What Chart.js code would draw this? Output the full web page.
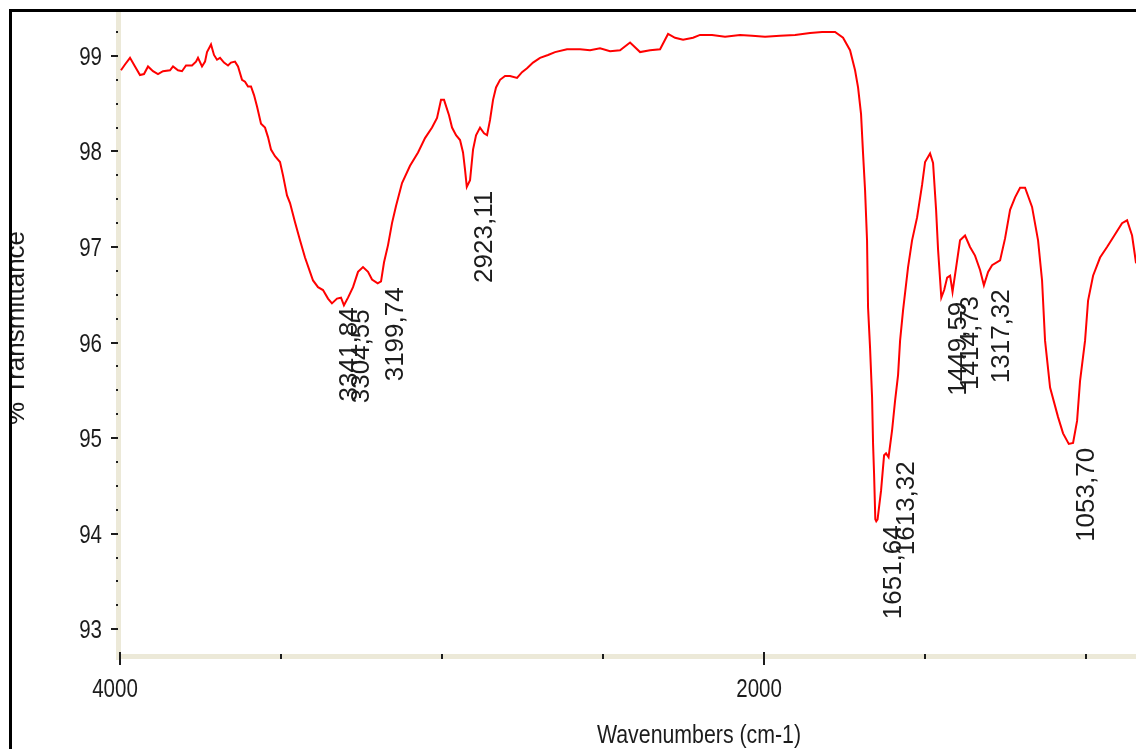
<!DOCTYPE html>
<html>
<head>
<meta charset="utf-8">
<script src="https://cdn.jsdelivr.net/npm/chart.js@4"></script>
<style>
  html, body { margin: 0; padding: 0; background: #fff; }
  canvas { display: block; }
</style>
</head>
<body>
<canvas id="irChart" width="1136" height="749"></canvas>
<script>
// IR spectrum, wavenumber (cm-1) against % transmittance
const wavenumbers = [
  3997, 3984.5, 3968.9, 3953.4, 3937.9, 3925.5, 3913, 3897.5, 3882, 3866.5,
  3844.7, 3835.4, 3819.9, 3807.5, 3795, 3776.4, 3764, 3757.8, 3745.3, 3736,
  3729.8, 3717.4, 3708.1, 3698.8, 3689.4, 3677, 3664.6, 3655.3, 3642.9, 3633.5,
  3621.1, 3611.8, 3602.5, 3593.2, 3583.8, 3574.5, 3562.1, 3549.7, 3540.4, 3531.1,
  3518.6, 3503.1, 3493.8, 3481.4, 3472, 3456.5, 3441, 3425.5, 3410, 3400.6,
  3385.1, 3369.6, 3354.1, 3341.84, 3326.1, 3313.7, 3304.55, 3291.9, 3276.4, 3260.9,
  3245.4, 3229.8, 3217.4, 3199.74, 3189.4, 3180.1, 3167.7, 3155.3, 3142.9, 3124.2,
  3099.4, 3074.5, 3052.8, 3031, 3015.5, 3003.1, 2993.8, 2978.3, 2968.9, 2956.5,
  2944.1, 2934.8, 2928.6, 2923.11, 2913, 2903.7, 2894.4, 2882, 2869.5, 2860.2,
  2850.9, 2841.6, 2832.3, 2819.8, 2804.3, 2788.8, 2767.1, 2751.6, 2736, 2717.4,
  2695.7, 2670.8, 2649.1, 2611.8, 2571.4, 2540.4, 2509.3, 2478.2, 2447.2, 2416.1,
  2385, 2354, 2322.9, 2307.5, 2298.1, 2276.4, 2251.5, 2220.5, 2198.8, 2161.5,
  2121.1, 2074.5, 2037.3, 1996.9, 1950.3, 1903.7, 1857.1, 1819.9, 1779.5, 1754.7,
  1733, 1717.4, 1708.1, 1698.8, 1692.6, 1686.4, 1680.2, 1677.1, 1670.9, 1664.6,
  1661.5, 1658.4, 1654.5, 1651.64, 1647.5, 1636.7, 1627.3, 1621.1, 1613.32, 1602.5,
  1593.2, 1583.9, 1577.6, 1568.3, 1552.8, 1540.4, 1524.8, 1509.3, 1500, 1484.5,
  1475.2, 1465.8, 1459.6, 1449.59, 1440.7, 1431.4, 1422.3, 1414.73, 1403.9, 1391.4,
  1375.9, 1360.4, 1344.9, 1329.3, 1317.32, 1304.3, 1291.9, 1267.1, 1251.6, 1236,
  1220.5, 1205, 1189.5, 1167.8, 1149.1, 1136.7, 1127.4, 1111.8, 1087, 1071.5,
  1053.7, 1040.4, 1028, 1018.7, 1003.2, 993.8, 978.3, 956.6, 934.9, 916.2,
  888.3, 872.7, 857.2, 844.8
];

const transmittance = [
  98.85, 98.91, 98.98, 98.89, 98.80, 98.81, 98.89, 98.84, 98.81, 98.84,
  98.85, 98.89, 98.85, 98.84, 98.90, 98.90, 98.94, 98.98, 98.89, 98.94,
  99.04, 99.12, 99.01, 98.96, 98.98, 98.93, 98.90, 98.93, 98.94, 98.89,
  98.75, 98.73, 98.68, 98.68, 98.59, 98.47, 98.29, 98.25, 98.15, 98.02,
  97.95, 97.89, 97.75, 97.54, 97.46, 97.26, 97.07, 96.89, 96.74, 96.65,
  96.58, 96.55, 96.46, 96.41, 96.46, 96.47, 96.39, 96.47, 96.58, 96.74,
  96.79, 96.74, 96.66, 96.62, 96.64, 96.84, 97.02, 97.25, 97.43, 97.67,
  97.85, 97.99, 98.14, 98.25, 98.35, 98.54, 98.54, 98.38, 98.25, 98.17,
  98.12, 97.99, 97.81, 97.63, 97.70, 98.02, 98.17, 98.25, 98.19, 98.17,
  98.33, 98.54, 98.67, 98.75, 98.79, 98.79, 98.77, 98.83, 98.87, 98.93,
  98.98, 99.01, 99.04, 99.07, 99.07, 99.06, 99.08, 99.05, 99.06, 99.14,
  99.04, 99.06, 99.07, 99.17, 99.23, 99.19, 99.17, 99.19, 99.22, 99.22,
  99.20, 99.22, 99.21, 99.20, 99.21, 99.22, 99.24, 99.25, 99.25, 99.19,
  99.06, 98.85, 98.67, 98.39, 97.98, 97.60, 97.07, 96.37, 95.95, 95.43,
  94.94, 94.63, 94.15, 94.13, 94.15, 94.45, 94.82, 94.84, 94.80, 95.08,
  95.39, 95.66, 96.02, 96.34, 96.79, 97.07, 97.31, 97.65, 97.89, 97.98,
  97.88, 97.39, 96.97, 96.47, 96.55, 96.68, 96.70, 96.53, 96.78, 97.07,
  97.12, 97.00, 96.91, 96.76, 96.60, 96.74, 96.81, 96.86, 97.09, 97.39,
  97.52, 97.62, 97.62, 97.42, 97.07, 96.65, 96.02, 95.53, 95.22, 95.05,
  94.94, 94.95, 95.18, 95.60, 96.02, 96.44, 96.70, 96.89, 97.00, 97.10,
  97.25, 97.28, 97.12, 96.83
];

// picked peaks, written with a decimal comma
const peakPositions = [3341.84, 3304.55, 3199.74, 2923.11, 1651.64, 1613.32, 1449.59, 1414.73, 1317.32, 1053.70];

const yTickValues = [93, 94, 95, 96, 97, 98, 99];
const xTickValues = [4000, 3500, 3000, 2500, 2000, 1500, 1000];
const xLabelValues = [4000, 2000];

const AXIS_BAND = '#ece9d8';
const INK = '#1c1c1c';

function squeezedText(ctx, text, x, y, size, align) {
  // condensed look: regular sans squeezed horizontally
  ctx.save();
  ctx.font = size + 'px "Liberation Sans", Arial, sans-serif';
  ctx.translate(x, y);
  ctx.scale(0.82, 1);
  ctx.textAlign = align;
  ctx.textBaseline = 'alphabetic';
  ctx.fillStyle = INK;
  ctx.fillText(text, 0, 0);
  ctx.restore();
}

const axesPlugin = {
  id: 'axesPlugin',
  beforeDatasetsDraw(chart) {
    const ctx = chart.ctx;
    const xs = chart.scales.x;
    const ys = chart.scales.y;
    const area = chart.chartArea;
    ctx.save();

    // beige axis bands
    ctx.fillStyle = AXIS_BAND;
    ctx.fillRect(area.left - 4, area.top + 1, 5, area.bottom - area.top + 3);
    ctx.fillRect(area.left - 4, area.bottom - 2, area.right - area.left + 4, 5);

    // y minor dots every 0.25
    ctx.fillStyle = INK;
    for (let v = 93.25; v < 99.3; v += 0.25) {
      if (Math.abs(v - Math.round(v)) < 0.01) continue;
      const py = Math.round(ys.getPixelForValue(v));
      ctx.fillRect(area.left - 4, py - 1, 2, 2);
    }
    // y major ticks + labels
    yTickValues.forEach(v => {
      const py = Math.round(ys.getPixelForValue(v));
      ctx.fillStyle = INK;
      ctx.fillRect(area.left - 9, py - 1, 7, 2);
      squeezedText(ctx, String(v), area.left - 18, py + 9, 25, 'right');
    });

    // x ticks
    ctx.fillStyle = INK;
    xTickValues.forEach(v => {
      const px = Math.round(xs.getPixelForValue(v));
      if (xLabelValues.includes(v)) {
        ctx.fillRect(px - 1, area.bottom - 4, 2, 13);
      } else {
        ctx.fillRect(px - 1, area.bottom - 2, 2, 5);
      }
    });
    xLabelValues.forEach(v => {
      const px = xs.getPixelForValue(v);
      squeezedText(ctx, String(v), px - 5, area.bottom + 41, 25, 'center');
    });

    ctx.restore();
  },
  afterDatasetsDraw(chart) {
    const ctx = chart.ctx;
    const xs = chart.scales.x;
    const ys = chart.scales.y;
    ctx.save();
    ctx.fillStyle = INK;
    ctx.font = '26px "Liberation Sans", Arial, sans-serif';
    ctx.textAlign = 'right';
    ctx.textBaseline = 'alphabetic';
    peakPositions.forEach(w => {
      const i = wavenumbers.indexOf(w);
      const px = xs.getPixelForValue(w);
      const py = ys.getPixelForValue(transmittance[i]);
      ctx.save();
      ctx.translate(px + 25, py + 4);
      ctx.rotate(-Math.PI / 2);
      ctx.fillText(w.toFixed(2).replace('.', ','), 0, 0);
      ctx.restore();
    });
    ctx.restore();
  },
  afterDraw(chart) {
    const ctx = chart.ctx;
    ctx.save();
    // axis titles
    squeezedText(ctx, 'Wavenumbers (cm-1)', 699, 743, 26, 'center');

    ctx.save();
    ctx.beginPath();
    ctx.rect(12, 0, 200, 749);
    ctx.clip();
    ctx.translate(24, 328);
    ctx.rotate(-Math.PI / 2);
    ctx.font = '26px "Liberation Sans", Arial, sans-serif';
    ctx.fillStyle = INK;
    ctx.textAlign = 'center';
    ctx.textBaseline = 'alphabetic';
    ctx.fillText('% Transmittance', 0, 0);
    ctx.restore();

    // window frame
    ctx.fillStyle = '#000';
    ctx.fillRect(9, 9, chart.width - 9, 3);
    ctx.fillRect(9, 9, 3, chart.height - 9);
    ctx.restore();
  }
};

const points = wavenumbers.map((w, i) => ({ x: w, y: transmittance[i] }));

new Chart(document.getElementById('irChart'), {
  type: 'line',
  data: {
    datasets: [{
      data: points,
      borderColor: '#ff0000',
      borderWidth: 2,
      pointRadius: 0,
      tension: 0,
      fill: false
    }]
  },
  options: {
    responsive: false,
    animation: false,
    devicePixelRatio: 1,
    layout: { padding: { left: 120, right: 0, top: 11, bottom: 93 } },
    plugins: { legend: { display: false }, tooltip: { enabled: false } },
    scales: {
      x: { type: 'linear', reverse: true, min: 845, max: 4000, display: false },
      y: { type: 'linear', min: 92.72, max: 99.47, display: false }
    }
  },
  plugins: [axesPlugin]
});
</script>
</body>
</html>
